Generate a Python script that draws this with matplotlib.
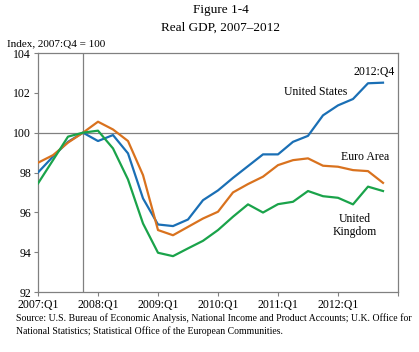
import matplotlib
matplotlib.use("Agg")
import matplotlib.pyplot as plt

plt.rcParams['font.family'] = ['Liberation Serif', 'DejaVu Serif']

quarters = list(range(24))  # 2007:Q1 .. 2012:Q4
us = [98.0, 98.8, 99.54, 100.0, 99.58, 99.88, 98.96, 96.70,
      95.39, 95.31, 95.64, 96.61, 97.1, 97.73, 98.32, 98.91,
      98.91, 99.54, 99.84, 100.87, 101.37, 101.69, 102.48, 102.51]
euro = [98.49, 98.87, 99.5, 100.0, 100.55, 100.16, 99.58, 97.87,
        95.11, 94.85, 95.27, 95.69, 96.03, 97.0, 97.42, 97.79,
        98.37, 98.62, 98.71, 98.34, 98.29, 98.12, 98.07, 97.48]
uk = [97.45, 98.62, 99.8, 100.0, 100.1, 99.21, 97.65, 95.44,
      93.97, 93.8, 94.19, 94.57, 95.11, 95.78, 96.4, 95.99,
      96.41, 96.53, 97.07, 96.81, 96.73, 96.4, 97.29, 97.07]
xtick_pos = [0, 4, 8, 12, 16, 20, 24]
xtick_labels = ['2007:Q1', '2008:Q1', '2009:Q1', '2010:Q1', '2011:Q1', '2012:Q1', '']
yticks = [92, 94, 96, 98, 100, 102, 104]

fig = plt.figure(figsize=(4.19, 3.52), dpi=100)
ax = fig.add_axes([38/419, 1-292/352, 360/419, 239/352])

ax.axhline(100, color='#808080', lw=0.9, zorder=1)
ax.axvline(3, color='#808080', lw=0.9, zorder=1)

ax.plot(quarters, us, color='#1a6fb5', lw=1.6, zorder=3)
ax.plot(quarters, euro, color='#d9721e', lw=1.6, zorder=3)
ax.plot(quarters, uk, color='#1aa34a', lw=1.6, zorder=3)

ax.set_xlim(0, 24)
ax.set_ylim(92, 104)
ax.set_xticks(xtick_pos)
ax.set_xticklabels(xtick_labels, fontsize=8.5)
ax.set_yticks(yticks)
ax.set_yticklabels([str(v) for v in yticks], fontsize=8.5)
for s in ax.spines.values():
    s.set_color('#808080')
    s.set_linewidth(0.9)
ax.tick_params(axis='both', color='#808080', length=3, width=0.8, pad=2)

ax.text(22.4, 103.05, '2012:Q4', fontsize=8.5, ha='center', va='center')
ax.text(20.6, 102.04, 'United States', fontsize=8.5, ha='right', va='center')
ax.text(21.8, 98.77, 'Euro Area', fontsize=8.5, ha='center', va='center')
ax.text(21.1, 95.33, 'United\nKingdom', fontsize=8.5, ha='center', va='center', linespacing=1.1)

fig.text(0.527, 0.972, 'Figure 1-4', fontsize=9.5, ha='center', va='center')
fig.text(0.527, 0.922, 'Real GDP, 2007\u20132012', fontsize=9.5, ha='center', va='center')
fig.text(7/419, 1-44/352, 'Index, 2007:Q4 = 100', fontsize=8, ha='left', va='center')
fig.text(16/419, 1-318/352, 'Source: U.S. Bureau of Economic Analysis, National Income and Product Accounts; U.K. Office for',
         fontsize=7.0, ha='left', va='center')
fig.text(16/419, 1-331/352, 'National Statistics; Statistical Office of the European Communities.',
         fontsize=7.0, ha='left', va='center')

fig.savefig('out.png', dpi=100)
